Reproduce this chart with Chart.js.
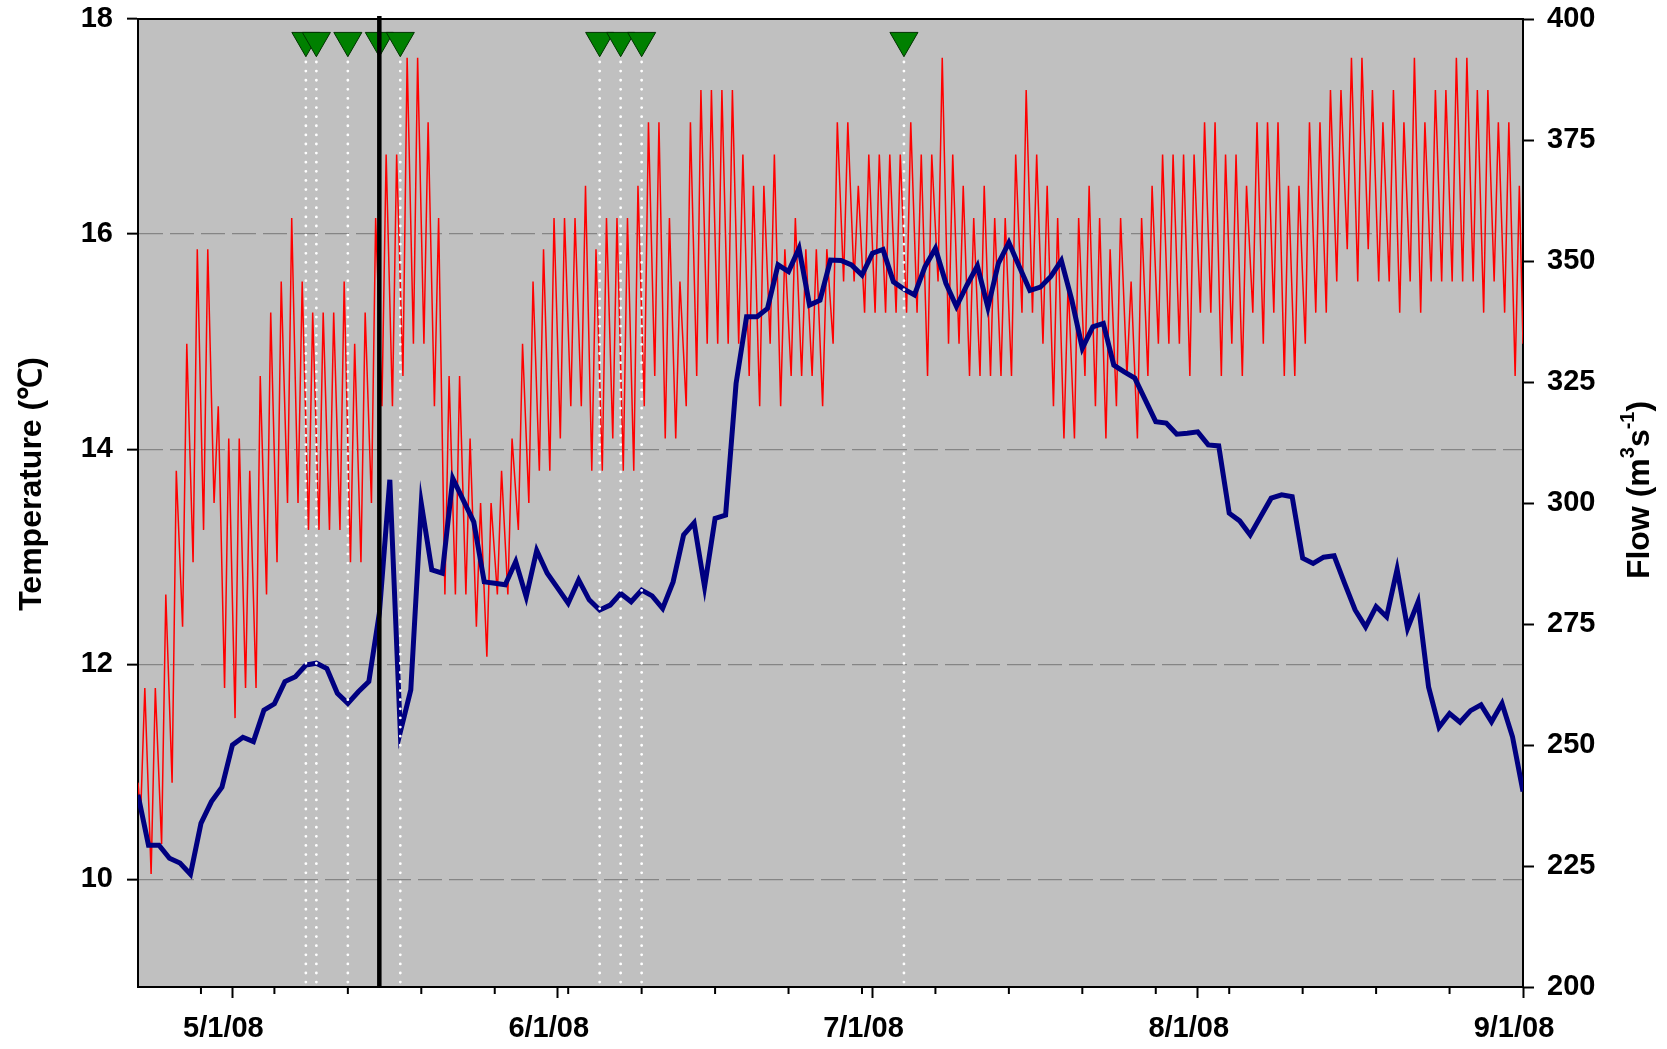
<!DOCTYPE html>
<html>
<head>
<meta charset="utf-8">
<title>Temperature and flow</title>
<script src="https://cdn.jsdelivr.net/npm/chart.js@4.4.0/dist/chart.umd.min.js"></script>
<style>
  html, body { margin: 0; padding: 0; background: #fff; }
  #wrap { width: 1667px; height: 1049px; }
</style>
</head>
<body>
<div id="wrap"><canvas id="tempflow" width="1667" height="1049"></canvas></div>
<script>
// x values are days counted from 4/22/08 00:00
const monthTicks = [9, 40, 70, 101, 132];
const monthLabels = ['5/1/08', '6/1/08', '7/1/08', '8/1/08', '9/1/08'];
const weekTicks = [6, 13, 20, 27, 34, 41, 48, 55, 62, 69, 76, 83, 90, 97, 104, 111, 118, 125];
const tempTicks = [10, 12, 14, 16, 18];
const flowTicks = [200, 225, 250, 275, 300, 325, 350, 375, 400];

// daily low / high water temperature (C), one entry per day from 4/22
const tempLow = [
  10.6, 10.05, 10.33, 10.9, 12.35, 12.95, 13.25, 13.5, 11.78, 11.5,
  11.78, 11.78, 12.65, 12.95, 13.5, 13.5, 13.25, 13.25, 13.25, 13.25,
  12.95, 12.95, 13.5, 14.4, 14.4, 14.68, 14.98, 14.98, 14.4, 12.65,
  12.65, 12.65, 12.35, 12.07, 12.65, 12.65, 13.25, 13.5, 13.8, 13.8,
  14.1, 14.4, 14.4, 13.8, 13.8, 14.1, 13.8, 13.8, 14.4, 14.68,
  14.1, 14.1, 14.4, 14.68, 14.98, 14.98, 14.98, 14.98, 14.68, 14.4,
  14.98, 14.4, 14.68, 14.68, 14.68, 14.4, 14.98, 15.56, 15.56, 15.27,
  15.27, 15.27, 15.27, 15.27, 15.27, 14.68, 15.56, 14.98, 14.98, 14.68,
  14.68, 14.68, 14.68, 14.68, 15.27, 15.27, 14.98, 14.4, 14.1, 14.1,
  14.68, 14.4, 14.1, 14.4, 14.68, 14.1, 14.68, 14.98, 14.98, 14.98,
  14.68, 15.27, 15.27, 14.68, 14.98, 14.68, 15.27, 14.98, 15.27, 14.68,
  14.68, 14.98, 15.27, 15.27, 15.56, 15.86, 15.56, 15.86, 15.56, 15.56,
  15.27, 15.56, 15.27, 15.56, 15.56, 15.56, 15.56, 15.56, 15.27, 15.56,
  15.27, 14.68
];
const tempHigh = [
  11.78, 11.78, 12.65, 13.8, 14.98, 15.86, 15.86, 14.4, 14.1, 14.1,
  13.8, 14.68, 15.27, 15.56, 16.15, 15.56, 15.27, 15.27, 15.27, 15.56,
  14.98, 15.27, 16.15, 16.74, 16.74, 17.64, 17.64, 17.04, 16.15, 14.68,
  14.68, 14.1, 13.5, 13.5, 13.8, 14.1, 14.98, 15.56, 15.86, 16.15,
  16.15, 16.15, 16.45, 15.86, 16.15, 16.15, 16.15, 16.45, 17.04, 17.04,
  16.15, 15.56, 17.04, 17.34, 17.34, 17.34, 17.34, 16.74, 16.45, 16.45,
  16.74, 15.86, 16.15, 15.86, 15.86, 15.86, 17.04, 17.04, 16.45, 16.74,
  16.74, 16.74, 16.74, 17.04, 16.74, 16.74, 17.64, 16.74, 16.45, 16.15,
  16.45, 16.15, 16.15, 16.74, 17.34, 16.74, 16.45, 16.15, 15.56, 16.15,
  16.45, 16.15, 15.86, 16.15, 15.56, 16.15, 16.45, 16.74, 16.74, 16.74,
  16.74, 17.04, 17.04, 16.74, 16.74, 16.45, 17.04, 17.04, 17.04, 16.45,
  16.45, 17.04, 17.04, 17.34, 17.34, 17.64, 17.64, 17.34, 17.04, 17.34,
  17.04, 17.64, 17.04, 17.34, 17.34, 17.64, 17.64, 17.34, 17.34, 17.04,
  17.04, 16.45
];
const tempFirst = 10.9;
const tempLast = 14.98;

// daily flow (m3/s), 4/22 .. 9/1
const flowDaily = [
  239.7, 229.3, 229.3, 226.6, 225.6, 223.3, 233.8, 238.3, 241.3, 250.0,
  251.6, 250.7, 257.2, 258.5, 263.1, 264.1, 266.5, 266.9, 265.8, 260.7,
  258.6, 261.0, 263.1, 277.2, 304.8, 252.7, 261.4, 299.9, 286.2, 285.5,
  305.1, 300.6, 296.1, 283.7, 283.4, 283.1, 287.9, 280.6, 290.2, 285.5,
  282.4, 279.3, 284.1, 280.0, 277.9, 278.9, 281.3, 279.6, 282.0, 280.8,
  278.2, 283.7, 293.4, 295.9, 282.7, 296.8, 297.5, 324.7, 338.5, 338.5,
  340.2, 349.2, 347.8, 352.6, 340.9, 341.9, 350.2, 350.1, 349.2, 347.1,
  351.6, 352.4, 345.7, 344.2, 343.0, 348.8, 352.6, 345.4, 340.6, 345.0,
  349.0, 340.4, 349.5, 353.8, 348.8, 343.9, 344.6, 346.8, 350.1, 341.9,
  332.0, 336.4, 337.1, 328.5, 327.1, 325.8, 321.3, 316.8, 316.5, 314.2,
  314.4, 314.7, 312.0, 311.8, 297.9, 296.3, 293.4, 297.2, 301.0, 301.7,
  301.3, 288.6, 287.5, 288.8, 289.1, 283.4, 277.9, 274.4, 278.6, 276.5,
  286.3, 274.1, 279.6, 262.0, 253.7, 256.5, 254.7, 257.1, 258.3, 254.8,
  258.6, 251.7, 240.4
];

// sampling days (green triangles) and the event day (black line)
const sampleDays = [16, 17, 20, 23, 25, 44, 46, 48, 73];
const eventDay = 23;

const LOW_TIME = 0.25;   // fraction of day where the daily low sits
const HIGH_TIME = 0.65;  // fraction of day where the daily high sits
const markerLevel = 17.8; // temperature level the triangles hang from

Chart.defaults.font.family = "'Liberation Sans', Arial, Helvetica, sans-serif";
Chart.defaults.color = '#000';

function buildTempPoints() {
  const pts = [{x: 0, y: tempFirst}];
  tempLow.forEach((low, d) => {
    pts.push({x: d + LOW_TIME, y: low});
    pts.push({x: d + HIGH_TIME, y: tempHigh[d]});
  });
  pts.push({x: tempLow.length, y: tempLast});
  return pts;
}

const flowPoints = flowDaily.map((v, d) => ({x: d, y: v}));
const markerPoints = sampleDays.map((d) => ({x: d, y: markerLevel}));

// keep label overhang from pushing the plot area around
function noOverhang(s) {
  s.paddingTop = 0;
  s.paddingBottom = 0;
  s.paddingLeft = 0;
  s.paddingRight = 0;
}

const decor = {
  id: 'decor',
  beforeDraw(chart) {
    const {ctx, chartArea: a} = chart;
    ctx.save();
    ctx.fillStyle = '#c0c0c0';
    ctx.fillRect(a.left, a.top, a.right - a.left, a.bottom - a.top);
    ctx.restore();
  },
  afterDatasetDraw(chart, args) {
    // white dotted lines go right after the flow line, under the triangles
    if (args.index !== 1) return;
    const {ctx, chartArea: a} = chart;
    const xs = chart.scales.x;
    ctx.save();
    ctx.strokeStyle = '#fff';
    ctx.lineWidth = 2.8;
    ctx.lineCap = 'round';
    ctx.setLineDash([0.01, 9.1]);
    sampleDays.forEach((d) => {
      const x = xs.getPixelForValue(d);
      ctx.beginPath();
      ctx.moveTo(x, 62);
      ctx.lineTo(x, a.bottom + 3);
      ctx.stroke();
    });
    ctx.restore();
  },
  afterDatasetsDraw(chart) {
    const {ctx, chartArea: a} = chart;
    const xs = chart.scales.x;
    ctx.save();
    // top frame
    ctx.strokeStyle = '#000';
    ctx.lineWidth = 2;
    ctx.beginPath();
    ctx.moveTo(a.left - 1, a.top);
    ctx.lineTo(a.right + 1, a.top);
    ctx.stroke();
    // weekly minor ticks
    weekTicks.forEach((d) => {
      const x = xs.getPixelForValue(d);
      ctx.beginPath();
      ctx.moveTo(x, a.bottom);
      ctx.lineTo(x, a.bottom + 7);
      ctx.stroke();
    });
    // event line
    const ex = xs.getPixelForValue(eventDay);
    ctx.lineWidth = 4.5;
    ctx.beginPath();
    ctx.moveTo(ex, a.top - 3);
    ctx.lineTo(ex, a.bottom + 1);
    ctx.stroke();
    ctx.restore();
  },
  afterDraw(chart) {
    const ctx = chart.ctx;
    ctx.save();
    ctx.fillStyle = '#000';
    ctx.font = "bold 32px 'Liberation Sans', Arial, sans-serif";
    ctx.textBaseline = 'alphabetic';
    ctx.translate(41, 484);
    ctx.rotate(-Math.PI / 2);
    ctx.textAlign = 'center';
    ctx.fillText('Temperature (\u2103)', 0, 0);
    ctx.restore();

    // right title with superscripts
    const big = "bold 32px 'Liberation Sans', Arial, sans-serif";
    const small = "bold 20px 'Liberation Sans', Arial, sans-serif";
    const parts = [['Flow (m', false], ['3', true], ['s', false], ['-1', true], [')', false]];
    ctx.save();
    let total = 0;
    parts.forEach((p) => { ctx.font = p[1] ? small : big; total += ctx.measureText(p[0]).width; });
    ctx.translate(1649, 490);
    ctx.rotate(-Math.PI / 2);
    ctx.fillStyle = '#000';
    ctx.textAlign = 'left';
    ctx.textBaseline = 'alphabetic';
    let x = -total / 2;
    parts.forEach((p) => {
      ctx.font = p[1] ? small : big;
      ctx.fillText(p[0], x, p[1] ? -15 : 0);
      x += ctx.measureText(p[0]).width;
    });
    ctx.restore();
  }
};

const tickFont = {size: 29, weight: 'bold'};

new Chart(document.getElementById('tempflow'), {
  type: 'line',
  data: {
    datasets: [
      {
        label: 'Sampling',
        data: markerPoints,
        yAxisID: 'y',
        showLine: false,
        order: 1,
        pointStyle: 'triangle',
        rotation: 180,
        radius: 16.2,
        backgroundColor: '#008000',
        borderColor: '#003300',
        borderWidth: 1
      },
      {
        label: 'Flow',
        data: flowPoints,
        yAxisID: 'y2',
        order: 2,
        borderColor: '#000080',
        borderWidth: 5,
        pointRadius: 0,
        tension: 0
      },
      {
        label: 'Temperature',
        data: buildTempPoints(),
        yAxisID: 'y',
        order: 3,
        borderColor: '#ff0000',
        borderWidth: 1.5,
        pointRadius: 0,
        tension: 0
      }
    ]
  },
  options: {
    responsive: false,
    devicePixelRatio: 1,
    animation: false,
    events: [],
    layout: {padding: {top: 19, left: 0, right: 0, bottom: 0}},
    plugins: {legend: {display: false}, tooltip: {enabled: false}},
    scales: {
      x: {
        type: 'linear',
        min: 0,
        max: 132,
        afterBuildTicks: (s) => { s.ticks = monthTicks.map((v) => ({value: v})); },
        afterFit: (s) => { s.height = 62; noOverhang(s); },
        grid: {drawOnChartArea: false, tickLength: 11, tickWidth: 2, tickColor: '#000'},
        border: {color: '#000', width: 2},
        ticks: {
          autoSkip: false,
          maxRotation: 0,
          padding: 14,
          labelOffset: -9,
          font: tickFont,
          callback: (v) => {
            const i = monthTicks.indexOf(v);
            return i >= 0 ? monthLabels[i] : '';
          }
        }
      },
      y: {
        type: 'linear',
        position: 'left',
        min: 9,
        max: 18,
        afterBuildTicks: (s) => { s.ticks = tempTicks.map((v) => ({value: v})); },
        afterFit: (s) => { s.width = 138; noOverhang(s); },
        grid: {
          color: (c) => (c.tick && c.tick.value === 18 ? 'rgba(0,0,0,0)' : '#858585'),
          lineWidth: 1.3,
          tickLength: 11,
          tickWidth: 2,
          tickColor: '#000'
        },
        border: {color: '#000', width: 2, dash: [24, 7]},
        ticks: {padding: 14, font: tickFont}
      },
      y2: {
        type: 'linear',
        position: 'right',
        min: 200,
        max: 400,
        afterBuildTicks: (s) => { s.ticks = flowTicks.map((v) => ({value: v})); },
        afterFit: (s) => { s.width = 144; noOverhang(s); },
        grid: {drawOnChartArea: false, tickLength: 11, tickWidth: 2, tickColor: '#000'},
        border: {color: '#000', width: 2},
        ticks: {padding: 13, font: tickFont}
      }
    }
  },
  plugins: [decor]
});
</script>
</body>
</html>
